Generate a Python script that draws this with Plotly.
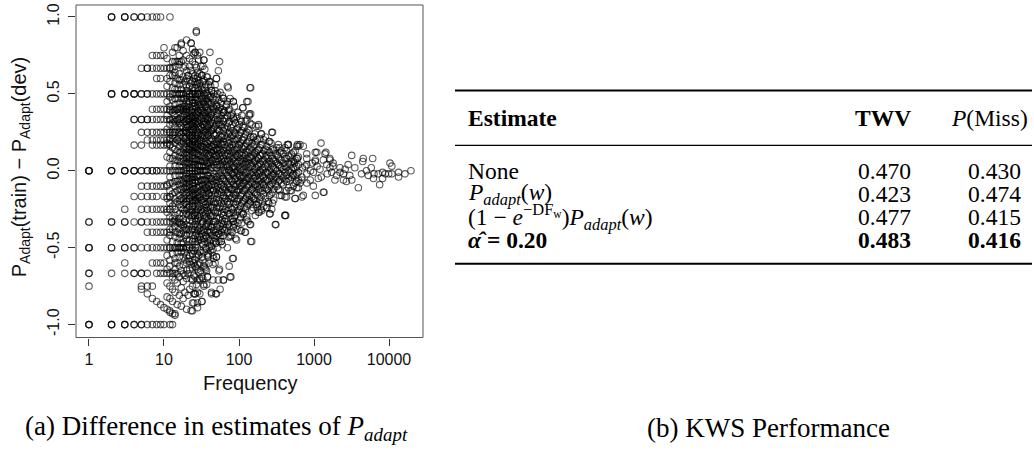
import plotly.graph_objects as go

W, H = 1034, 451

# ---- scatter data: P_Adapt(train) - P_Adapt(dev) against word frequency ----

# low-frequency words fall on a few discrete difference levels
row_levels = [1.0, 0.75, 0.667, 0.6, 0.5, 0.4, 0.333, 0.25, 0.2, 0.167, 0.0,
              -0.1, -0.167, -0.25, -0.333, -0.4, -0.5, -0.6, -0.667, -0.75, -1.0]
row_freqs = [
    [2, 2, 2, 3, 3, 3, 4, 4, 5, 5, 6, 7, 8, 9, 12],
    [7, 8, 9, 10],
    [5, 6, 6, 7, 8, 9, 10, 11, 12, 13],
    [8, 9, 11],
    [2, 2, 2, 3, 3, 3, 4, 4, 4, 5, 5, 6, 6, 7, 8, 9, 10, 11, 12, 13, 14, 15, 16, 17, 18, 20, 22, 24, 26, 28, 30],
    [7, 8, 9, 10, 11, 12, 13, 14, 15, 16, 18, 20],
    [4, 4, 5, 5, 6, 6, 7, 8, 9, 10, 11, 12, 13, 14, 15, 16, 18, 20, 21, 24],
    [5, 6, 7, 8, 9, 10, 11, 12, 13, 14, 16, 18, 20],
    [6, 7, 8, 9, 10, 11, 12, 13, 15],
    [4, 5, 7, 8, 9, 10, 11, 12],
    [1, 1, 1, 1, 2, 2, 2, 3, 3, 3, 4, 4, 4, 5, 5, 6, 6, 7, 7, 8, 8, 9, 10, 11, 12, 13, 14, 15, 16, 17, 18, 19, 20, 22, 24, 26, 28, 30, 33, 36],
    [5, 6, 7, 8, 9, 10, 11],
    [4, 5, 6, 7, 8, 10, 11, 12],
    [3, 5, 6, 7, 8, 9, 10, 11, 12],
    [1, 1, 2, 2, 3, 3, 4, 5, 5, 6, 7, 8, 9, 10, 11, 12, 13, 14, 15, 16, 18],
    [6, 7, 8, 9, 10, 11, 12],
    [1, 1, 1, 2, 2, 3, 3, 4, 4, 5, 6, 7, 8, 9, 10, 11, 12, 13, 14, 15, 16, 17, 18, 20, 22],
    [3, 7, 8, 9, 10],
    [1, 1, 2, 3, 4, 4, 5, 5, 6, 8, 9, 10, 11, 12, 13, 14],
    [1, 5, 6, 7],
    [1, 1, 1, 2, 2, 2, 3, 3, 3, 4, 4, 5, 5, 6, 7, 8, 9, 10, 12, 13],
]

# the dense middle of the cloud, one column of differences per frequency
col_freqs = [11, 12, 13, 14, 15, 16, 17, 18, 19, 20, 21, 22, 23, 24, 25, 26, 27, 28, 29, 30,
             32, 34, 36, 38, 40, 43, 46, 50, 54, 58, 62, 67, 72, 78, 84, 90, 97, 105, 113, 122,
             132, 143, 155, 168, 182, 197, 215, 235, 256, 280, 305, 335, 370, 410, 455, 500, 560, 620]
col_diffs = [
    [0.73, 0.55, 0.45, 0.36, 0.27, 0.18, 0.09, -0.09, -0.18, -0.27, -0.45, -0.55, -0.64, -0.73, -0.82],
    [0.67, 0.58, 0.42, 0.33, 0.25, 0.17, 0.08, -0.08, -0.17, -0.25, -0.42, -0.58, -0.75, -0.83, -0.92],
    [0.77, 0.62, 0.54, 0.46, 0.38, 0.31, 0.23, 0.15, 0.08, -0.08, -0.15, -0.23, -0.31, -0.38, -0.46, -0.54, -0.69, -0.77, -0.85],
    [0.71, 0.64, 0.57, 0.43, 0.36, 0.29, 0.21, 0.14, 0.07, -0.07, -0.14, -0.21, -0.29, -0.36, -0.43, -0.57, -0.64, -0.71, -0.79, -0.93],
    [0.8, 0.6, 0.53, 0.47, 0.4, 0.33, 0.27, 0.2, 0.13, 0.07, -0.07, -0.13, -0.2, -0.27, -0.4, -0.47, -0.53, -0.6, -0.67, -0.73, -0.87],
    [0.75, 0.69, 0.56, 0.44, 0.38, 0.31, 0.25, 0.19, 0.12, 0.06, -0.06, -0.12, -0.19, -0.31, -0.38, -0.44, -0.56, -0.62, -0.81],
    [0.82, 0.71, 0.59, 0.53, 0.47, 0.41, 0.35, 0.29, 0.24, 0.18, 0.12, 0.06, -0.06, -0.12, -0.18, -0.24, -0.35, -0.41, -0.47, -0.53, -0.65, -0.76, -0.88],
    [0.72, 0.61, 0.56, 0.44, 0.39, 0.28, 0.22, 0.17, 0.11, 0.06, -0.06, -0.11, -0.17, -0.22, -0.28, -0.39, -0.44, -0.5, -0.61, -0.72, -0.83],
    [0.68, 0.58, 0.47, 0.42, 0.37, 0.32, 0.26, 0.21, 0.16, 0.11, 0.05, -0.05, -0.11, -0.16, -0.21, -0.26, -0.37, -0.42, -0.53, -0.58, -0.68, -0.79],
    [0.85, 0.75, 0.65, 0.55, 0.45, 0.4, 0.35, 0.3, 0.25, 0.2, 0.15, 0.1, 0.05, -0.05, -0.1, -0.15, -0.2, -0.25, -0.35, -0.45, -0.55, -0.65, -0.7, -0.9],
    [0.62, 0.52, 0.43, 0.38, 0.33, 0.29, 0.24, 0.19, 0.14, 0.1, 0.05, -0.05, -0.1, -0.14, -0.24, -0.29, -0.38, -0.48, -0.57, -0.67, -0.81],
    [0.73, 0.59, 0.5, 0.45, 0.36, 0.32, 0.27, 0.23, 0.18, 0.14, 0.09, 0.05, -0.05, -0.09, -0.18, -0.23, -0.32, -0.41, -0.5, -0.64, -0.77],
    [0.83, 0.65, 0.57, 0.48, 0.39, 0.35, 0.3, 0.26, 0.22, 0.17, 0.13, 0.04, -0.04, -0.13, -0.17, -0.26, -0.3, -0.39, -0.52, -0.61, -0.7, -0.91],
    [0.71, 0.58, 0.46, 0.42, 0.38, 0.29, 0.25, 0.21, 0.17, 0.12, 0.08, -0.04, -0.08, -0.12, -0.21, -0.25, -0.33, -0.42, -0.46, -0.54, -0.63, -0.75, -0.86],
    [0.76, 0.6, 0.52, 0.44, 0.36, 0.32, 0.28, 0.2, 0.16, 0.12, 0.04, -0.04, -0.12, -0.16, -0.2, -0.28, -0.36, -0.44, -0.52, -0.6, -0.68, -0.8],
    [0.77, 0.62, 0.54, 0.46, 0.42, 0.35, 0.31, 0.23, 0.19, 0.15, 0.08, 0.04, -0.08, -0.15, -0.19, -0.27, -0.31, -0.38, -0.46, -0.58, -0.69, -0.8],
    [0.9, 0.67, 0.56, 0.48, 0.41, 0.37, 0.3, 0.26, 0.22, 0.15, 0.11, 0.07, -0.04, -0.11, -0.19, -0.26, -0.33, -0.41, -0.48, -0.56, -0.63, -0.74],
    [0.61, 0.54, 0.5, 0.43, 0.36, 0.32, 0.25, 0.21, 0.14, 0.11, 0.04, -0.04, -0.11, -0.14, -0.21, -0.29, -0.36, -0.43, -0.5, -0.61, -0.71, -0.86],
    [0.72, 0.59, 0.52, 0.45, 0.38, 0.31, 0.28, 0.24, 0.17, 0.1, 0.03, -0.07, -0.1, -0.17, -0.24, -0.31, -0.38, -0.45, -0.55, -0.66],
    [0.77, 0.63, 0.57, 0.5, 0.43, 0.4, 0.33, 0.27, 0.2, 0.13, 0.07, 0.03, -0.03, -0.1, -0.17, -0.23, -0.3, -0.37, -0.43, -0.53, -0.6, -0.7, -0.8],
    [0.62, 0.53, 0.47, 0.41, 0.34, 0.28, 0.22, 0.16, 0.09, 0.03, -0.06, -0.12, -0.19, -0.25, -0.34, -0.41, -0.47, -0.56, -0.69, -0.85],
    [0.72, 0.59, 0.5, 0.44, 0.38, 0.32, 0.26, 0.21, 0.15, 0.09, 0.03, -0.03, -0.12, -0.18, -0.24, -0.29, -0.38, -0.44, -0.53, -0.62, -0.74],
    [0.56, 0.47, 0.42, 0.36, 0.31, 0.25, 0.19, 0.14, 0.08, 0.03, -0.06, -0.11, -0.17, -0.22, -0.28, -0.36, -0.42, -0.5, -0.64],
    [0.61, 0.5, 0.45, 0.39, 0.34, 0.29, 0.24, 0.18, 0.13, 0.05, -0.03, -0.08, -0.13, -0.21, -0.26, -0.34, -0.39, -0.47, -0.55, -0.69],
    [0.58, 0.48, 0.43, 0.35, 0.3, 0.25, 0.2, 0.15, 0.1, 0.05, -0.05, -0.1, -0.15, -0.2, -0.28, -0.33, -0.4, -0.45, -0.5, -0.6],
    [0.52, 0.44, 0.37, 0.33, 0.26, 0.21, 0.16, 0.12, 0.07, 0.02, -0.05, -0.09, -0.16, -0.23, -0.3, -0.37, -0.42, -0.49, -0.79],
    [0.5, 0.41, 0.35, 0.28, 0.24, 0.17, 0.13, 0.09, 0.04, -0.02, -0.07, -0.13, -0.2, -0.26, -0.33, -0.39, -0.46, -0.57],
    [0.6, 0.48, 0.42, 0.36, 0.3, 0.24, 0.18, 0.14, 0.1, 0.06, 0.02, -0.04, -0.08, -0.12, -0.18, -0.24, -0.3, -0.36, -0.42, -0.47, -0.56, -0.8],
    [0.46, 0.39, 0.31, 0.26, 0.2, 0.15, 0.11, 0.06, -0.02, -0.07, -0.13, -0.19, -0.24, -0.31, -0.41, -0.46, -0.65],
    [0.44, 0.36, 0.29, 0.22, 0.17, 0.12, 0.07, 0.03, -0.03, -0.09, -0.14, -0.21, -0.28, -0.34, -0.4, -0.46],
    [0.47, 0.38, 0.32, 0.26, 0.19, 0.13, 0.08, 0.02, -0.05, -0.1, -0.16, -0.23, -0.29, -0.35, -0.42, -0.71],
    [0.42, 0.34, 0.27, 0.21, 0.15, 0.1, 0.04, -0.01, -0.07, -0.12, -0.18, -0.25, -0.31, -0.37],
    [0.54, 0.39, 0.31, 0.24, 0.18, 0.13, 0.07, 0.01, -0.04, -0.1, -0.15, -0.22, -0.28, -0.35, -0.43],
    [0.36, 0.28, 0.22, 0.15, 0.1, 0.05, -0.01, -0.06, -0.12, -0.18, -0.24, -0.31, -0.42, -0.69],
    [0.45, 0.34, 0.26, 0.19, 0.13, 0.08, 0.02, -0.03, -0.09, -0.15, -0.21, -0.27, -0.33, -0.37, -0.57],
    [0.31, 0.24, 0.17, 0.11, 0.06, 0.01, -0.05, -0.1, -0.16, -0.22, -0.29, -0.44],
    [0.38, 0.28, 0.21, 0.15, 0.09, 0.03, -0.02, -0.07, -0.13, -0.19, -0.26, -0.34],
    [0.33, 0.25, 0.18, 0.12, 0.07, 0.01, -0.04, -0.1, -0.16, -0.23, -0.3, -0.39],
    [0.41, 0.29, 0.2, 0.14, 0.08, 0.03, -0.03, -0.08, -0.13, -0.2, -0.28],
    [0.32, 0.24, 0.16, 0.1, 0.05, -0.01, -0.06, -0.12, -0.18, -0.25, -0.4],
    [0.45, 0.27, 0.19, 0.12, 0.07, 0.02, -0.04, -0.09, -0.15, -0.22, -0.33],
    [0.54, 0.37, 0.22, 0.15, 0.09, 0.03, -0.02, -0.07, -0.13, -0.2, -0.35, -0.46],
    [0.22, 0.16, 0.1, 0.05, -0.01, -0.05, -0.11, -0.18, -0.24],
    [0.29, 0.19, 0.12, 0.07, 0.02, -0.03, -0.09, -0.15, -0.22],
    [0.3, 0.14, 0.08, 0.03, -0.02, -0.07, -0.12, -0.21, -0.27],
    [0.24, 0.17, 0.1, 0.04, -0.01, -0.06, -0.11, -0.17, -0.25],
    [0.2, 0.13, 0.07, 0.02, -0.04, -0.09, -0.15, -0.23],
    [0.16, 0.1, 0.05, -0.01, -0.06, -0.12, -0.24],
    [0.19, 0.12, 0.06, 0.0, -0.05, -0.1, -0.16, -0.28],
    [0.25, 0.14, 0.08, 0.03, -0.03, -0.08, -0.14, -0.21],
    [0.11, 0.06, 0.01, -0.04, -0.09, -0.35],
    [0.17, 0.09, 0.04, -0.02, -0.07, -0.12],
    [0.13, 0.07, 0.02, -0.03, -0.08, -0.16],
    [0.15, 0.08, 0.03, -0.01, -0.06, -0.17, -0.29],
    [0.17, 0.1, 0.05, 0.0, -0.05, -0.11],
    [0.11, 0.06, 0.01, -0.04, -0.13],
    [0.13, 0.07, 0.02, -0.03, -0.08, -0.18],
    [0.16, 0.09, 0.04, -0.01, -0.06, -0.11],
]

# a second set of words sharing frequencies with the middle of the cloud
col2_freqs = [12, 14, 16, 18, 20, 22, 24, 26, 28, 31, 33, 35, 37, 39, 42, 45, 48, 52, 56, 60,
              64, 70, 75, 81, 87, 94, 101, 109, 117, 127, 137, 149, 162, 175, 190, 206, 225, 245,
              268, 290, 320, 350, 390, 430, 480, 530, 590]
col2_diffs = [
    [0.62, 0.48, 0.39, 0.3, 0.21, 0.12, 0.03, -0.04, -0.13, -0.21, -0.3, -0.38, -0.5, -0.62],
    [0.68, 0.53, 0.47, 0.39, 0.32, 0.25, 0.18, 0.1, 0.03, -0.03, -0.1, -0.18, -0.25, -0.32, -0.4, -0.5, -0.6],
    [0.63, 0.59, 0.5, 0.41, 0.34, 0.28, 0.22, 0.16, 0.09, 0.03, -0.03, -0.09, -0.16, -0.22, -0.28, -0.34, -0.41, -0.5, -0.69],
    [0.78, 0.67, 0.5, 0.47, 0.42, 0.36, 0.31, 0.25, 0.19, 0.14, 0.08, 0.03, -0.03, -0.08, -0.14, -0.19, -0.25, -0.31, -0.36, -0.47, -0.56, -0.67],
    [0.6, 0.52, 0.48, 0.42, 0.38, 0.32, 0.28, 0.22, 0.18, 0.12, 0.08, 0.02, -0.02, -0.08, -0.12, -0.18, -0.22, -0.28, -0.32, -0.38, -0.42, -0.5, -0.6],
    [0.68, 0.55, 0.48, 0.41, 0.39, 0.34, 0.3, 0.25, 0.2, 0.16, 0.11, 0.07, 0.02, -0.02, -0.07, -0.11, -0.16, -0.2, -0.27, -0.36, -0.45, -0.55, -0.59],
    [0.79, 0.63, 0.54, 0.5, 0.44, 0.4, 0.35, 0.31, 0.27, 0.23, 0.19, 0.15, 0.1, 0.06, 0.02, -0.02, -0.06, -0.1, -0.15, -0.19, -0.23, -0.29, -0.38, -0.5, -0.58, -0.71],
    [0.69, 0.58, 0.5, 0.44, 0.38, 0.33, 0.27, 0.21, 0.17, 0.12, 0.06, 0.02, -0.02, -0.06, -0.12, -0.17, -0.23, -0.29, -0.35, -0.42, -0.5, -0.62],
    [0.75, 0.64, 0.57, 0.46, 0.39, 0.34, 0.29, 0.23, 0.18, 0.16, 0.07, 0.0, -0.07, -0.16, -0.18, -0.25, -0.32, -0.39, -0.46, -0.54, -0.64, -0.79],
    [0.68, 0.55, 0.48, 0.42, 0.39, 0.35, 0.29, 0.23, 0.19, 0.16, 0.1, 0.06, 0.0, -0.06, -0.13, -0.19, -0.26, -0.32, -0.39, -0.45, -0.52, -0.65],
    [0.58, 0.52, 0.45, 0.39, 0.36, 0.3, 0.24, 0.18, 0.12, 0.06, 0.0, -0.06, -0.09, -0.15, -0.21, -0.27, -0.33, -0.39, -0.48, -0.58, -0.7],
    [0.66, 0.54, 0.49, 0.43, 0.37, 0.34, 0.29, 0.23, 0.17, 0.11, 0.06, 0.0, -0.06, -0.11, -0.14, -0.2, -0.26, -0.31, -0.4, -0.46, -0.6],
    [0.51, 0.46, 0.41, 0.35, 0.3, 0.27, 0.22, 0.16, 0.11, 0.05, 0.0, -0.05, -0.11, -0.16, -0.24, -0.3, -0.35, -0.43, -0.51, -0.65],
    [0.56, 0.49, 0.44, 0.38, 0.33, 0.28, 0.23, 0.15, 0.1, 0.03, -0.03, -0.1, -0.15, -0.18, -0.23, -0.31, -0.36, -0.44, -0.54],
    [0.55, 0.48, 0.4, 0.36, 0.31, 0.26, 0.19, 0.14, 0.1, 0.05, 0.0, -0.05, -0.12, -0.19, -0.24, -0.29, -0.36, -0.4, -0.45, -0.52],
    [0.47, 0.42, 0.38, 0.31, 0.27, 0.2, 0.16, 0.11, 0.07, 0.02, -0.04, -0.09, -0.13, -0.18, -0.24, -0.29, -0.35, -0.42, -0.51],
    [0.52, 0.46, 0.4, 0.33, 0.29, 0.23, 0.19, 0.15, 0.1, 0.06, 0.0, -0.06, -0.1, -0.15, -0.21, -0.27, -0.33, -0.4, -0.44, -0.6],
    [0.5, 0.42, 0.37, 0.33, 0.27, 0.21, 0.17, 0.13, 0.08, 0.04, -0.04, -0.1, -0.15, -0.21, -0.27, -0.35, -0.38, -0.5],
    [0.41, 0.34, 0.3, 0.23, 0.18, 0.14, 0.09, 0.04, 0.0, -0.05, -0.11, -0.16, -0.23, -0.3, -0.36, -0.43],
    [0.49, 0.4, 0.33, 0.28, 0.22, 0.17, 0.1, 0.05, 0.0, -0.05, -0.12, -0.18, -0.25, -0.32, -0.38, -0.48],
    [0.39, 0.34, 0.28, 0.23, 0.17, 0.11, 0.06, 0.0, -0.06, -0.11, -0.17, -0.2, -0.27, -0.33, -0.39],
    [0.45, 0.36, 0.29, 0.22, 0.16, 0.11, 0.06, 0.03, -0.03, -0.09, -0.14, -0.2, -0.26, -0.33, -0.4, -0.5],
    [0.4, 0.32, 0.25, 0.2, 0.15, 0.09, 0.04, 0.0, -0.05, -0.11, -0.16, -0.21, -0.28, -0.36],
    [0.37, 0.3, 0.23, 0.17, 0.12, 0.07, 0.02, -0.02, -0.07, -0.12, -0.17, -0.25, -0.31, -0.4],
    [0.42, 0.33, 0.25, 0.2, 0.14, 0.09, 0.03, -0.01, -0.06, -0.12, -0.18, -0.24, -0.3, -0.35],
    [0.35, 0.27, 0.2, 0.14, 0.1, 0.05, 0.0, -0.04, -0.09, -0.14, -0.2, -0.27, -0.38],
    [0.3, 0.23, 0.17, 0.11, 0.06, 0.02, -0.03, -0.08, -0.12, -0.18, -0.25, -0.32],
    [0.36, 0.26, 0.2, 0.15, 0.1, 0.05, 0.0, -0.05, -0.1, -0.15, -0.21, -0.27, -0.34],
    [0.28, 0.22, 0.16, 0.11, 0.06, 0.01, -0.04, -0.08, -0.13, -0.19, -0.24],
    [0.33, 0.25, 0.18, 0.13, 0.08, 0.04, -0.01, -0.06, -0.11, -0.17, -0.23, -0.3],
    [0.26, 0.2, 0.14, 0.09, 0.05, 0.0, -0.05, -0.1, -0.16, -0.19],
    [0.3, 0.18, 0.13, 0.08, 0.03, -0.03, -0.08, -0.12, -0.17, -0.26],
    [0.24, 0.17, 0.11, 0.06, 0.01, -0.04, -0.09, -0.14, -0.19],
    [0.2, 0.13, 0.09, 0.04, -0.01, -0.06, -0.1, -0.16, -0.24],
    [0.21, 0.15, 0.1, 0.05, 0.0, -0.04, -0.09, -0.14, -0.19],
    [0.17, 0.11, 0.06, 0.01, -0.03, -0.08, -0.13, -0.2],
    [0.22, 0.14, 0.09, 0.04, -0.01, -0.06, -0.11, -0.18],
    [0.13, 0.08, 0.03, -0.02, -0.07, -0.13, -0.2],
    [0.18, 0.1, 0.05, 0.01, -0.04, -0.09, -0.15],
    [0.13, 0.07, 0.02, -0.02, -0.06, -0.12, -0.19],
    [0.15, 0.1, 0.05, 0.0, -0.04, -0.1],
    [0.12, 0.07, 0.03, -0.02, -0.06, -0.13],
    [0.11, 0.05, 0.01, -0.04, -0.09],
    [0.13, 0.08, 0.02, -0.03, -0.07, -0.13],
    [0.09, 0.04, -0.01, -0.06],
    [0.12, 0.06, 0.02, -0.02, -0.1],
    [0.08, 0.03, -0.02, -0.07],
]

# scattered words along the upper edge of the cloud (frequency, difference)
upper_edge = [(27, 0.91), (23, 0.83), (26, 0.77), (41, 0.77), (34, 0.72), (55, 0.71), (33, 0.68),
              (53, 0.65), (32, 0.62), (37, 0.61), (50, 0.6), (41, 0.58), (48, 0.56), (70, 0.55),
              (140, 0.54), (56, 0.51), (43, 0.52), (127, 0.45), (62, 0.47), (76, 0.47), (84, 0.45),
              (112, 0.41), (137, 0.37), (84, 0.35), (68, 0.43), (50, 0.43), (62, 0.38), (10, 0.8),
              (14, 0.8), (17, 0.83), (13, 0.71), (15, 0.71), (16, 0.71), (14, 0.62), (21, 0.62),
              (137, 0.36), (108, 0.32), (140, 0.31), (182, 0.29), (273, 0.25), (200, 0.24), (155, 0.22),
              (250, 0.19), (350, 0.15), (455, 0.17), (590, 0.16), (650, 0.17), (440, 0.17), (600, 0.17)]

# scattered words along the lower edge of the cloud (frequency, difference)
lower_edge = [(310, -0.35), (148, -0.46), (82, -0.57), (74, -0.62), (76, -0.69), (56, -0.77), (43, -0.8),
              (49, -0.8), (53, -0.71), (45, -0.71), (38, -0.69), (62, -0.71), (32, -0.85), (28, -0.89),
              (24, -0.91), (34, -0.75), (45, -0.61), (55, -0.64), (39, -0.56), (65, -0.38), (108, -0.39),
              (120, -0.4), (93, -0.45), (76, -0.43), (49, -0.47), (50, -0.56), (35, -0.63), (30, -0.71),
              (26, -0.8), (25, -0.86), (37, -0.74), (41, -0.49), (58, -0.46), (53, -0.41), (84, -0.36),
              (140, -0.35), (45, -0.55), (5, -0.77), (6, -0.8), (7, -0.83), (8, -0.85), (9, -0.87),
              (10, -0.89), (11, -0.9), (12, -0.91), (13, -0.93), (14, -0.94), (420, -0.29), (260, -0.28),
              (235, -0.24), (165, -0.29), (186, -0.27), (250, -0.21), (200, -0.26), (172, -0.22),
              (140, -0.21), (114, -0.28), (127, -0.32), (84, -0.33), (273, -0.25), (410, -0.29),
              (350, -0.16), (430, -0.17), (560, -0.18), (690, -0.17), (480, -0.13), (590, -0.11),
              (800, -0.08), (690, -0.04), (800, -0.02), (1040, -0.16), (1330, -0.14)]

# high-frequency tail (frequency, difference)
tail_points = [(1240, 0.18), (800, 0.11), (1090, 0.12), (1440, 0.12), (3180, 0.1), (4540, 0.08), (4460, 0.06),
               (6060, 0.08), (10300, 0.05), (10900, 0.03), (19600, 0.0), (16300, -0.02), (13400, -0.01),
               (13400, -0.04), (10900, -0.02), (8900, -0.02), (8200, -0.01), (7500, -0.09), (6300, -0.02),
               (6200, -0.05), (5300, -0.03), (5000, 0.0), (5800, 0.02), (3900, -0.11), (2700, -0.07),
               (3180, -0.06), (2470, -0.02), (2850, 0.04), (2220, 0.02), (1900, -0.06), (2000, -0.03),
               (1720, -0.01), (1630, 0.02), (1480, 0.04), (1330, 0.07), (1040, 0.06), (950, 0.05), (800, 0.04),
               (980, -0.01), (1140, -0.05), (890, -0.06), (980, -0.1), (1360, -0.14), (720, -0.16), (690, -0.06),
               (720, 0.16), (1630, 0.07), (1790, 0.03), (2220, -0.01), (2470, -0.06), (4300, -0.02),
               (7200, -0.02), (8200, -0.05), (9900, -0.02), (1040, 0.12), (1400, 0.11), (1630, 0.08),
               (1040, 0.07), (800, 0.08), (760, 0.03), (1200, 0.01), (1500, -0.02), (1250, -0.04), (900, 0.0),
               (1100, 0.03), (2600, 0.01), (3500, 0.02), (3000, -0.03), (1800, 0.05), (600, 0.08), (700, 0.02),
               (650, -0.08), (550, 0.05), (520, -0.03)]

# axis ticks
freq_ticks = [1, 10, 100, 1000, 10000]
diff_ticks = [-1.0, -0.5, 0.0, 0.5, 1.0]
diff_tick_text = ["-1.0", "-0.5", "0.0", "0.5", "1.0"]

# ---- table data: KWS performance ----
table_header = ["<b>Estimate</b>", "<b>TWV</b>", "<i>P</i>(Miss)"]
estimates = ["None",
             "<i>P</i><sub><i>adapt</i></sub>(<i>w</i>)",
             "(1 − <i>e</i><sup>−DF<sub>w</sub></sup>)<i>P</i><sub><i>adapt</i></sub>(<i>w</i>)",
             "<b><i>α̂</i> = 0.20</b>"]
twv = [0.470, 0.423, 0.477, 0.483]
p_miss = [0.430, 0.474, 0.415, 0.416]
bold_row = [False, False, False, True]

# ---- build the point list ----
xs, ys = [], []
for lvl, fr in zip(row_levels, row_freqs):
    for f in fr:
        xs.append(f)
        ys.append(lvl)
for freqs, diffs in ((col_freqs, col_diffs), (col2_freqs, col2_diffs)):
    for f, ds in zip(freqs, diffs):
        for d in ds:
            xs.append(f)
            ys.append(d)
for group in (upper_edge, lower_edge, tail_points):
    for f, d in group:
        xs.append(f)
        ys.append(d)

fig = go.Figure()
fig.add_trace(go.Scatter(
    x=xs, y=ys, mode="markers", hoverinfo="skip",
    marker=dict(symbol="circle-open", size=6.5, color="rgba(0,0,0,0.64)", line=dict(width=1.1)),
))


def pxx(p):
    return p / W


def pxy(p):
    return 1 - p / H


SANS = "Liberation Sans, Arial, Helvetica, sans-serif"
SERIF = "Liberation Serif, Times New Roman, serif"

fig.update_layout(
    width=W, height=H, margin=dict(l=0, r=0, t=0, b=0),
    paper_bgcolor="white", plot_bgcolor="white", showlegend=False,
    xaxis=dict(domain=[pxx(76), pxx(423)], type="log", range=[-0.173, 4.453],
               tickvals=freq_ticks, ticktext=[str(v) for v in freq_ticks],
               ticks="outside", ticklen=7, tickwidth=1, tickcolor="#333",
               showgrid=False, zeroline=False, showline=False,
               tickfont=dict(family=SANS, size=16, color="#111")),
    yaxis=dict(domain=[pxy(337), pxy(3)], range=[-1.084, 1.078],
               tickvals=diff_ticks, ticktext=diff_tick_text, tickangle=-90,
               ticks="outside", ticklen=7, tickwidth=1, tickcolor="#333",
               ticklabelstandoff=3,
               showgrid=False, zeroline=False, showline=False,
               tickfont=dict(family=SANS, size=16, color="#111")),
)

# plot frame
fig.add_shape(type="rect", xref="x domain", yref="y domain", x0=0, x1=1, y0=0, y1=1,
              line=dict(color="#555", width=1))


def label(text, x, y, font, xanchor="center", angle=0):
    fig.add_annotation(text=text, x=pxx(x), y=pxy(y), xref="paper", yref="paper",
                       xanchor=xanchor, yanchor="middle", textangle=angle,
                       showarrow=False, font=font)


# axis titles
label("Frequency", 250, 383, dict(family=SANS, size=20, color="#111"))
label("P<sub>Adapt</sub>(train) − P<sub>Adapt</sub>(dev)", 20, 166,
      dict(family=SANS, size=20, color="#111"), angle=-90)

# captions
CFONT = dict(family=SERIF, size=27, color="#000")
label("(a) Difference in estimates of <i>P</i><sub><i>adapt</i></sub>", 216, 428, CFONT)
label("(b) KWS Performance", 768, 428, CFONT)

# table rules
for yy, wd in [(89, 2), (144, 1.2), (263, 2)]:
    fig.add_shape(type="line", xref="paper", yref="paper", x0=pxx(455), x1=pxx(1032),
                  y0=pxy(yy), y1=pxy(yy), line=dict(color="black", width=wd))

TFONT = dict(family=SERIF, size=23.5, color="black")
header_x = [(466, "left"), (913, "right"), (1030, "right")]
for (cx, anc), txt in zip(header_x, table_header):
    label(txt, cx, 117, TFONT, xanchor=anc)

row_y = [170, 193, 216, 239]
cell_x = [(466, "left"), (913, "right"), (1023, "right")]
for ry, est, a, b, bold in zip(row_y, estimates, twv, p_miss, bold_row):
    cells = [est, f"{a:.3f}", f"{b:.3f}"]
    if bold:
        cells[1] = f"<b>{cells[1]}</b>"
        cells[2] = f"<b>{cells[2]}</b>"
    for (cx, anc), txt in zip(cell_x, cells):
        label(txt, cx, ry, TFONT, xanchor=anc)

fig.write_html("out.html")
